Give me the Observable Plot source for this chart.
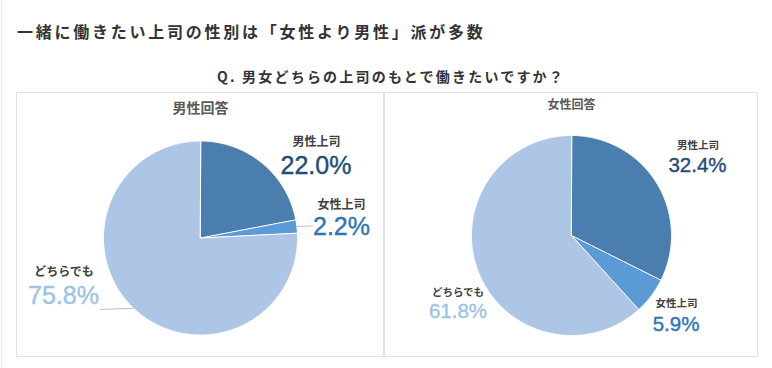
<!DOCTYPE html>
<html>
<head>
<meta charset="utf-8">
<script src="https://cdn.jsdelivr.net/npm/d3@7"></script>
<script src="https://cdn.jsdelivr.net/npm/@observablehq/plot@0.6"></script>
<style>
  html, body { margin: 0; padding: 0; background: #fff; }
  body { width: 772px; height: 368px; position: relative; overflow: hidden;
         font-family: "Noto Sans CJK JP", sans-serif; }
  #edge { position: absolute; left: 1px; top: 0; width: 0; height: 368px; border-left: 1px solid #ececec; }
  #title { position: absolute; left: 17px; top: 19px; line-height: 24px; font-size: 16px; font-weight: 700;
           letter-spacing: 2.75px; color: #333; white-space: nowrap; }
  #subtitle { position: absolute; left: 4px; width: 774px; top: 66px; line-height: 20px; font-size: 14px;
              font-weight: 700; letter-spacing: 2.2px; color: #333; text-align: center; white-space: nowrap; }
  .panel { position: absolute; top: 92px; height: 263px; border: 1px solid #e2e2e2; background: #fff; }
  .panel svg { display: block; }
</style>
</head>
<body>
<div id="edge"></div>
<div id="title"></div>
<div id="subtitle"></div>
<div class="panel" id="pMale" style="left:16px; width:366px;"></div>
<div class="panel" id="pFemale" style="left:384px; width:372px;"></div>
<script>
// ---------- data ----------
const chartTitle = "一緒に働きたい上司の性別は「女性より男性」派が多数";
const chartSubtitle = "Q. 男女どちらの上司のもとで働きたいですか？";
const categories = ["男性上司", "女性上司", "どちらでも"];
const panelTitles = ["男性回答", "女性回答"];
const maleAnswers = [22.0, 2.2, 75.8];
const femaleAnswers = [32.4, 5.9, 61.8];

// ---------- styles ----------
const sliceColors = ["#4a7eaf", "#5b9bd5", "#adc6e5"];
const valueColors = ["#1f4e79", "#2e75b6", "#9dc3e6"];
const nameColor = "#404040";
const titleColor = "#595959";
const jpFont = "'Noto Sans CJK JP', sans-serif";
const numFont = "'Liberation Sans', Arial, sans-serif";

// ---------- layout (pixel offsets from pie center) ----------
const layouts = [
  { width: 366, height: 263, cx: 183, cy: 144.5, r: 97,
    titleSize: 14, titleSpacing: 1, nameSize: 12, nameSpacing: 1, valueSize: 25,
    titleAt: [0, -129],
    nameAt: [[116, -95.5], [141, -32.5], [-136.5, 34.5]],
    valueAt: [[115.5, -72.5], [141, -11], [-137, 57.5]],
    leaderTo: [null, [112, -12], [-100, 71.5]] },
  { width: 372, height: 263, cx: 186, cy: 142, r: 100,
    titleSize: 12, titleSpacing: 0.5, nameSize: 10.5, nameSpacing: 0.3, valueSize: 20.5,
    titleAt: [0, -130],
    nameAt: [[126.5, -90], [105, 68.5], [-113.5, 57]],
    valueAt: [[126, -70.5], [104.5, 88.5], [-113.5, 76]],
    leaderTo: [null, null, null] }
];

document.getElementById("title").textContent = chartTitle;
document.getElementById("subtitle").textContent = chartSubtitle;

function piePanel(values, lay, title) {
  const total = d3.sum(values);
  let acc = 0;
  const slices = values.map((v, i) => {
    const a0 = acc / total * 2 * Math.PI;
    acc += v;
    const a1 = acc / total * 2 * Math.PI;
    return { i, cat: categories[i], value: v, a0, a1, mid: (a0 + a1) / 2 };
  });
  const marks = [];
  for (const s of slices) {
    const n = Math.max(2, Math.ceil((s.a1 - s.a0) / (Math.PI / 360)));
    const pts = [{ x: 0, y: 0 }];
    for (let k = 0; k <= n; k++) {
      const a = s.a0 + (s.a1 - s.a0) * k / n;
      pts.push({ x: lay.r * Math.sin(a), y: -lay.r * Math.cos(a) });
    }
    marks.push(Plot.line(pts, { x: "x", y: "y", curve: "linear-closed",
      fill: sliceColors[s.i], stroke: "#ffffff", strokeWidth: 1 }));
  }
  // leader lines
  for (const s of slices) {
    const to = lay.leaderTo[s.i];
    if (!to) continue;
    const from = { x: lay.r * Math.sin(s.mid), y: -lay.r * Math.cos(s.mid) };
    marks.push(Plot.line([from, { x: to[0], y: to[1] }], { x: "x", y: "y", stroke: "#bfbfbf", strokeWidth: 1 }));
  }
  // panel title
  marks.push(Plot.text([{ x: lay.titleAt[0], y: lay.titleAt[1], t: title }], {
    x: "x", y: "y", text: "t", fill: titleColor, fontSize: lay.titleSize, fontWeight: 700,
    fontFamily: jpFont, ariaLabel: "ptitle" }));
  // category names
  marks.push(Plot.text(slices, {
    x: d => lay.nameAt[d.i][0], y: d => lay.nameAt[d.i][1], text: "cat",
    fill: nameColor, fontSize: lay.nameSize, fontWeight: 700, fontFamily: jpFont, ariaLabel: "names" }));
  // values
  marks.push(Plot.text(slices, {
    x: d => lay.valueAt[d.i][0], y: d => lay.valueAt[d.i][1], text: d => d.value.toFixed(1) + "%",
    fill: d => valueColors[d.i], stroke: d => valueColors[d.i], strokeWidth: 0.4,
    fontSize: lay.valueSize, fontFamily: numFont, ariaLabel: "values" }));

  const svg = Plot.plot({
    width: lay.width, height: lay.height,
    marginTop: 0, marginRight: 0, marginBottom: 0, marginLeft: 0,
    x: { domain: [-lay.cx, lay.width - lay.cx], range: [0, lay.width], axis: null },
    y: { domain: [-lay.cy, lay.height - lay.cy], range: [0, lay.height], axis: null },
    color: { type: "identity" },
    style: { background: "#ffffff", overflow: "visible" },
    marks
  });
  svg.querySelectorAll('g[aria-label="ptitle"] text').forEach(t => t.setAttribute("letter-spacing", lay.titleSpacing));
  svg.querySelectorAll('g[aria-label="names"] text').forEach(t => t.setAttribute("letter-spacing", lay.nameSpacing));
  return svg;
}

document.getElementById("pMale").appendChild(piePanel(maleAnswers, layouts[0], panelTitles[0]));
document.getElementById("pFemale").appendChild(piePanel(femaleAnswers, layouts[1], panelTitles[1]));
</script>
</body>
</html>
